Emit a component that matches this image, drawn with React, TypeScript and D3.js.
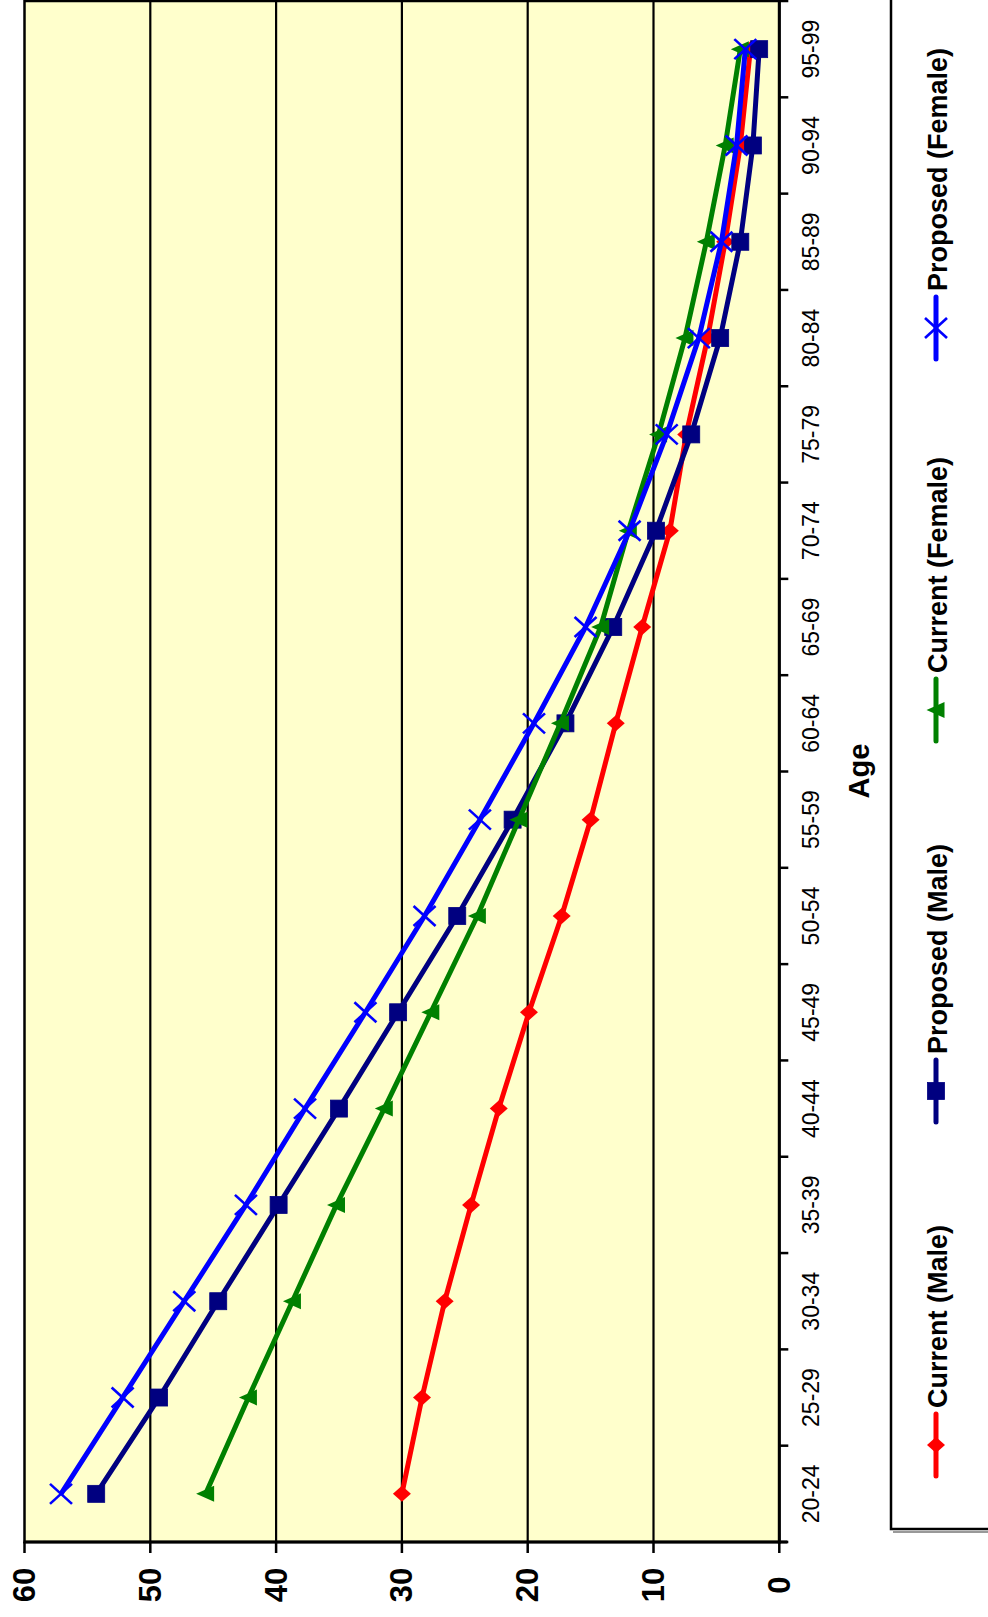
import React from "react";
import * as d3 from "d3";

const ageGroups = ["20-24","25-29","30-34","35-39","40-44","45-49","50-54","55-59","60-64","65-69","70-74","75-79","80-84","85-89","90-94","95-99"];
const currentMale = [30.0, 28.4, 26.6, 24.5, 22.3, 19.9, 17.3, 15.0, 13.0, 10.9, 8.7, 7.4, 5.7, 4.3, 3.1, 2.3];
const proposedMale = [54.3, 49.3, 44.6, 39.8, 35.0, 30.3, 25.6, 21.2, 17.0, 13.2, 9.8, 7.0, 4.7, 3.1, 2.1, 1.6];
const currentFemale = [45.6, 42.2, 38.7, 35.2, 31.4, 27.7, 24.0, 20.7, 17.4, 14.2, 12.0, 9.6, 7.5, 5.8, 4.3, 3.1];
const proposedFemale = [57.1, 52.2, 47.3, 42.4, 37.7, 32.9, 28.2, 23.8, 19.5, 15.4, 11.9, 8.95, 6.4, 4.6, 3.4, 2.7];
const valueTicks = [0, 10, 20, 30, 40, 50, 60];
const seriesNames = ["Current (Male)", "Proposed (Male)", "Current (Female)", "Proposed (Female)"];

const W = 988, H = 1617;
const plotLeft = 24.5, plotRight = 779.3, plotTop = 1, plotBottom = 1542;
const FONT = "'Liberation Sans', Arial, Helvetica, sans-serif";

type Series = { name: string; values: number[]; color: string; marker: string };
const series: Series[] = [
  { name: seriesNames[0], values: currentMale, color: "#FF0000", marker: "diamond" },
  { name: seriesNames[1], values: proposedMale, color: "#000080", marker: "square" },
  { name: seriesNames[2], values: currentFemale, color: "#008000", marker: "triangle" },
  { name: seriesNames[3], values: proposedFemale, color: "#0000FF", marker: "x" },
];
const legendY = [1445, 1091, 710, 328];

function Marker({ type, cx, cy, color }: { type: string; cx: number; cy: number; color: string }) {
  if (type === "diamond") {
    return <path d={`M${cx - 9},${cy} L${cx},${cy - 8} L${cx + 9},${cy} L${cx},${cy + 8} Z`} fill={color} />;
  }
  if (type === "square") {
    return <rect x={cx - 8.5} y={cy - 8.5} width={17} height={17} fill={color} stroke={color} strokeWidth={0.8} />;
  }
  if (type === "triangle") {
    return <path d={`M${cx - 9.5},${cy} L${cx + 8.5},${cy - 8} L${cx + 8.5},${cy + 8} Z`} fill={color} />;
  }
  return (
    <g stroke={color} strokeWidth={2.6}>
      <line x1={cx - 11} y1={cy - 10} x2={cx + 11} y2={cy + 10} />
      <line x1={cx - 11} y1={cy + 10} x2={cx + 11} y2={cy - 10} />
    </g>
  );
}

export default function App() {
  const x = d3.scaleLinear().domain([0, 60]).range([plotRight, plotLeft]);
  const y = d3.scaleBand<string>().domain(ageGroups).range([plotBottom, plotTop]);
  const yc = (c: string) => (y(c) as number) + y.bandwidth() / 2;
  const line = d3.line<number>().x((d) => x(d)).y((_, i) => yc(ageGroups[i]));
  const boundaries = d3.range(ageGroups.length + 1).map((i) => plotBottom - i * y.bandwidth());

  return (
    <svg width={W} height={H} style={{ position: "absolute", left: 0, top: 0, fontFamily: FONT }}>
      <rect x={0} y={0} width={W} height={H} fill="#FFFFFF" />
      {/* plot area */}
      <rect x={plotLeft} y={plotTop} width={plotRight - plotLeft} height={plotBottom - plotTop} fill="#FFFFCC" stroke="#000" strokeWidth={2.5} />
      {valueTicks.filter((v) => v > 0 && v < 60).map((v) => (
        <line key={v} x1={x(v)} x2={x(v)} y1={plotTop} y2={plotBottom} stroke="#000" strokeWidth={2.2} />
      ))}
      {/* category axis (right) */}
      <line x1={plotRight} x2={plotRight} y1={plotTop} y2={plotBottom + 1.5} stroke="#000" strokeWidth={3} />
      {boundaries.map((b, i) => (
        <line key={i} x1={plotRight} x2={plotRight + 9} y1={b} y2={b} stroke="#000" strokeWidth={2.5} />
      ))}
      {ageGroups.map((c) => (
        <text key={c} transform={`translate(819,${yc(c)}) rotate(-90)`} textAnchor="middle" fontSize={23} fill="#000">{c}</text>
      ))}
      {/* value axis (bottom) */}
      <line x1={plotLeft - 1} x2={plotRight + 8} y1={plotBottom} y2={plotBottom} stroke="#000" strokeWidth={3} />
      {valueTicks.map((v) => (
        <g key={v}>
          <line x1={x(v)} x2={x(v)} y1={plotBottom} y2={plotBottom + 11} stroke="#000" strokeWidth={2.5} />
          <text transform={`translate(${x(v) + 10.5},1585) rotate(-90)`} textAnchor="middle" fontSize={31} fontWeight="bold" fill="#000">{v}</text>
        </g>
      ))}
      <text transform="translate(869,771) rotate(-90)" textAnchor="middle" fontSize={29} fontWeight="bold" fill="#000">Age</text>
      {/* series */}
      {series.map((s) => (
        <g key={s.name}>
          <path d={line(s.values) as string} fill="none" stroke={s.color} strokeWidth={5} strokeLinejoin="round" />
          {s.values.map((v, i) => (
            <Marker key={i} type={s.marker} cx={x(v)} cy={yc(ageGroups[i])} color={s.color} />
          ))}
        </g>
      ))}
      {/* legend */}
      <rect x={893} y={1531} width={120} height={2} fill="#999" />
      <rect x={891} y={-10} width={130} height={1539} fill="#FFFFFF" stroke="#000" strokeWidth={2.5} />
      {series.map((s, i) => (
        <g key={s.name}>
          <line x1={936} x2={936} y1={legendY[i] - 31} y2={legendY[i] + 31} stroke={s.color} strokeWidth={5} strokeLinecap="round" />
          <Marker type={s.marker} cx={936} cy={legendY[i]} color={s.color} />
          <text transform={`translate(947,${legendY[i] - 37}) rotate(-90)`} fontSize={27} fontWeight="bold" fill="#000">{s.name}</text>
        </g>
      ))}
    </svg>
  );
}
